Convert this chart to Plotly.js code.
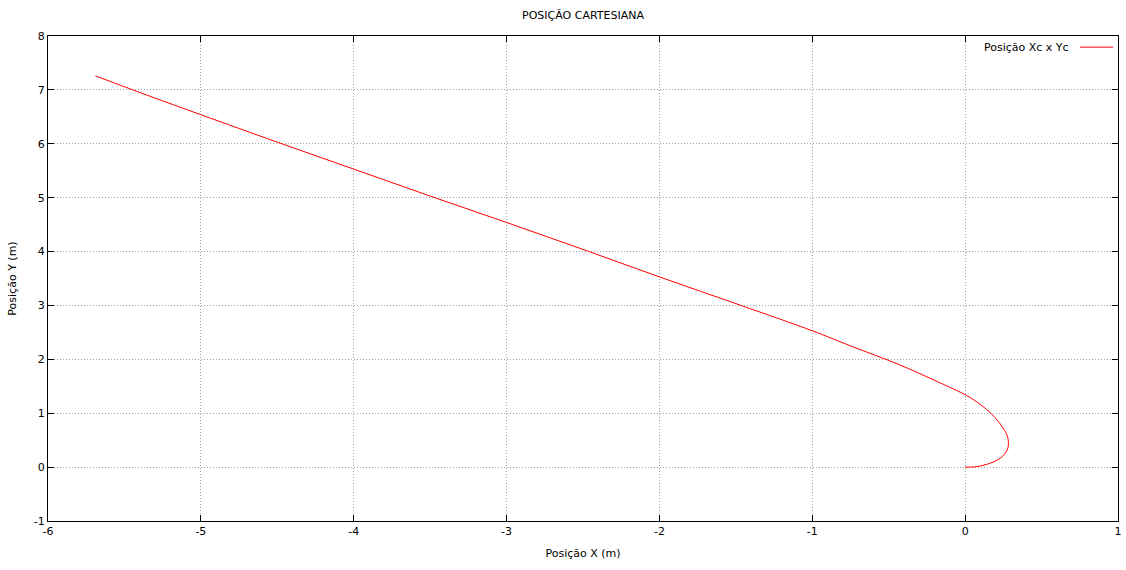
<!DOCTYPE html>
<html>
<head>
<meta charset="utf-8">
<script src="https://cdn.plot.ly/plotly-3.0.1.min.js"></script>
<style>html,body{margin:0;padding:0;background:#fff;}#chart{width:1126px;height:570px;}</style>
</head>
<body>
<div id="chart"></div>
<script>
const seriesName = "Posição Xc x Yc";
const posX = [0, 0.06, 0.14, 0.222, 0.266, 0.28, 0.283, 0.278, 0.266, 0.222, 0.168, 0.1, 0.015, -0.2, -0.43, -0.75, -1, -1.466, -2, -2.5, -3, -3.5, -4, -4.5, -5, -5.35, -5.69];
const posY = [0, 0.004, 0.05, 0.15, 0.27, 0.36, 0.46, 0.56, 0.64, 0.83, 1.0, 1.16, 1.32, 1.61, 1.9, 2.25, 2.53, 3.0, 3.53, 4.04, 4.54, 5.03, 5.53, 6.03, 6.54, 6.9, 7.26];
const xTicks = [-6, -5, -4, -3, -2, -1, 0, 1];
const yTicks = [-1, 0, 1, 2, 3, 4, 5, 6, 7, 8];

const font = {family: "DejaVu Sans, sans-serif", size: 11, color: "#000"};
const axisCommon = {
  showgrid: true, gridcolor: "#a0a0a0", griddash: "1px,2px", gridwidth: 1,
  zeroline: false, showline: true, linecolor: "#000", linewidth: 1, mirror: "ticks",
  ticks: "inside", ticklen: 6, tickcolor: "#000", tickfont: font
};

const trace = {
  x: posX, y: posY, type: "scatter", mode: "lines", name: seriesName,
  line: {color: "#ff0000", width: 1, shape: "spline", smoothing: 1},
  showlegend: false
};

const layout = {
  width: 1126, height: 570,
  margin: {l: 48, r: 8, t: 36, b: 49},
  paper_bgcolor: "#fff", plot_bgcolor: "#fff",
  font: font,
  title: {text: "POSIÇÃO CARTESIANA", font: font, x: 0.5178, xanchor: "center", y: 0.973, yanchor: "middle"},
  xaxis: Object.assign({}, axisCommon, {
    range: [-6, 1], tickvals: xTicks, ticktext: xTicks.map(String),
    title: {text: "Posição X (m)", font: font, standoff: 12}
  }),
  yaxis: Object.assign({}, axisCommon, {
    range: [-1, 8], tickvals: yTicks, ticktext: yTicks.map(String),
    title: {text: "Posição Y (m)", font: font, standoff: 14}
  }),
  annotations: [{
    xref: "paper", yref: "paper", x: 0.956, y: 0.977, xanchor: "right", yanchor: "middle",
    text: seriesName, showarrow: false, font: font
  }],
  shapes: [{
    type: "line", xref: "paper", yref: "paper", x0: 0.9645, x1: 0.9955, y0: 0.977, y1: 0.977,
    line: {color: "#ff0000", width: 1}
  }]
};

Plotly.newPlot("chart", [trace], layout, {displayModeBar: false, staticPlot: true});
</script>
</body>
</html>
